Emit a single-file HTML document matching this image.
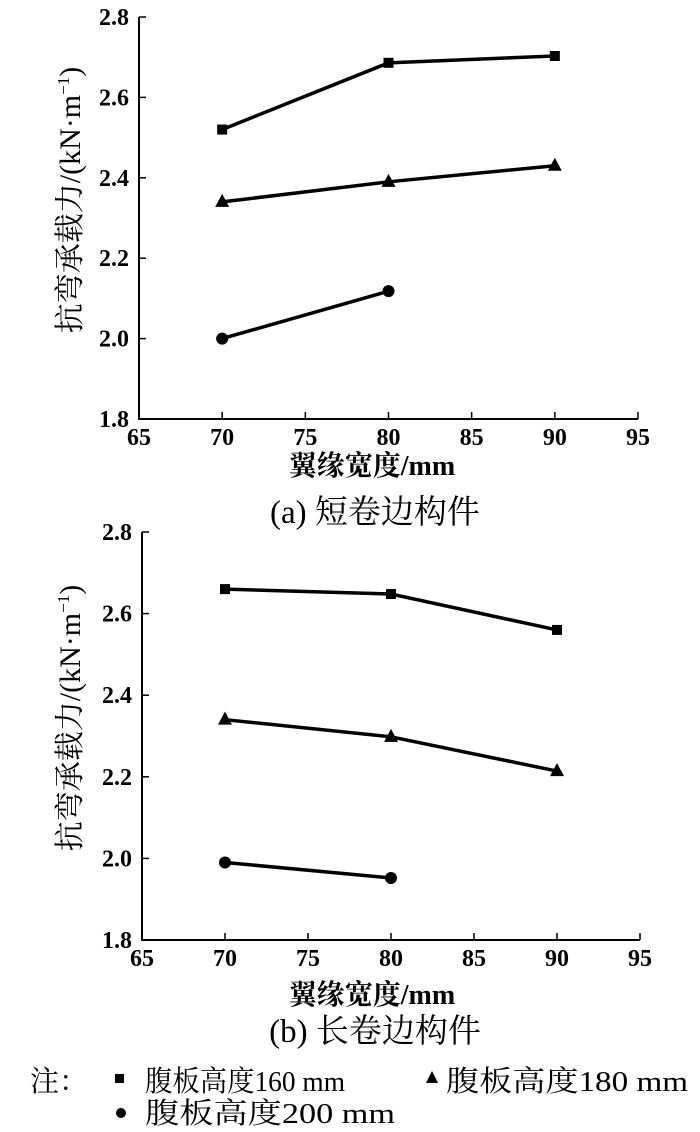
<!DOCTYPE html>
<html><head><meta charset="utf-8"><style>
html,body{margin:0;padding:0;background:#fff;}
svg{display:block;}
text{font-family:"Liberation Serif","Noto Serif CJK SC",serif;fill:#000;}
</style></head><body>
<svg id="chart" width="700" height="1132" viewBox="0 0 700 1132" xmlns="http://www.w3.org/2000/svg"></svg>
<script>
const xTicks=[65,70,75,80,85,90,95];
const yTicks=[1.8,2.0,2.2,2.4,2.6,2.8];
const xA=[70,80,90];
const a160=[2.52,2.686,2.703];
const a180=[2.34,2.39,2.43];
const a200=[2.0,2.118];
const b160=[2.66,2.648,2.56];
const b180=[2.34,2.298,2.214];
const b200=[1.99,1.952];
const NS='http://www.w3.org/2000/svg';
const svg=document.getElementById('chart');
function mk(tag,attrs,parent){const e=document.createElementNS(NS,tag);for(const k in attrs)e.setAttribute(k,attrs[k]);(parent||svg).appendChild(e);return e;}
function panel(id,top,bottom,left,right,s160,s180,s200,title,caption,titleY,capY){
  const g=mk('g',{});
  
  
  const xs=v=>left+(v-65)/30*(right-left);
  const ys=v=>bottom-(v-1.8)/1.0*(bottom-top);
  const ax=mk('path',{d:`M${left},${top} V${bottom} H${right}`,stroke:'#000','stroke-width':2,fill:'none'},g);
  
  
  yTicks.forEach(t=>{const y=ys(t);
    mk('line',{x1:left,x2:left+7,y1:y,y2:y,stroke:'#000','stroke-width':1.5},g);
    const tx=mk('text',{x:left-10,y:y+8,'text-anchor':'end','font-size':24,'font-weight':'bold'},g);
    tx.textContent=t.toFixed(1);
    
    });
  xTicks.forEach(t=>{const x=xs(t);
    mk('line',{x1:x,x2:x,y1:bottom,y2:bottom-7,stroke:'#000','stroke-width':1.5},g);
    const tx=mk('text',{x:x,y:bottom+26,'text-anchor':'middle','font-size':24,'font-weight':'bold'},g);
    tx.textContent=t;
    
    });
  function series(vals,name,marker){
    const pts=vals.map((v,i)=>[xs(xA[i]),ys(v)]);
    const pl=mk('polyline',{points:pts.map(p=>p.join(',')).join(' '),fill:'none',stroke:'#000','stroke-width':3.5},g);
    
    
    pts.forEach(p=>{let m;
      if(marker==='sq')m=mk('rect',{x:p[0]-5,y:p[1]-5,width:10,height:10,fill:'#000'},g);
      else if(marker==='tri')m=mk('polygon',{points:`${p[0]},${p[1]-8} ${p[0]-7},${p[1]+5} ${p[0]+7},${p[1]+5}`,fill:'#000'},g);
      else m=mk('circle',{cx:p[0],cy:p[1],r:6,fill:'#000'},g);
      
      });
  }
  series(s160,'160','sq');series(s180,'180','tri');series(s200,'200','circ');
  const yt=mk('text',{transform:`translate(80,${(top+bottom)/2-18}) rotate(-90)`,'text-anchor':'middle','font-size':30},g);
  yt.textContent='抗弯承载力/(kN·m';
  const sup=mk('tspan',{dy:-11,'font-size':17},yt);sup.textContent='−1';
  const cl=mk('tspan',{dy:11},yt);cl.textContent=')';
  
  
  const xt=mk('text',{x:372,y:titleY,'text-anchor':'middle','font-size':28,'font-weight':'bold'},g);
  xt.textContent=title;
  
  
  const cp=mk('text',{x:375,y:capY,'text-anchor':'middle','font-size':33},g);
  cp.textContent=caption;
  
  
}
panel('a',17,419,139,638,a160,a180,a200,'翼缘宽度/mm','(a) 短卷边构件',475,523);
panel('b',532,940,142,640,b160,b180,b200,'翼缘宽度/mm','(b) 长卷边构件',1004,1042);
const lg=mk('g',{});


const n=mk('text',{x:30,y:1091,'font-size':29},lg);n.textContent='注：';
mk('rect',{x:115,y:1074,width:9,height:9,fill:'#000'},lg);
const l1=mk('text',{x:145,y:1091,'font-size':29,textLength:200,lengthAdjust:'spacingAndGlyphs'},lg);l1.textContent='腹板高度160 mm';


mk('polygon',{points:'432,1071 426,1083 438,1083',fill:'#000'},lg);
const l2=mk('text',{x:446,y:1091,'font-size':29,textLength:242,lengthAdjust:'spacingAndGlyphs'},lg);l2.textContent='腹板高度180 mm';


mk('circle',{cx:121,cy:1113,r:5,fill:'#000'},lg);
const l3=mk('text',{x:145,y:1123,'font-size':29,textLength:250,lengthAdjust:'spacingAndGlyphs'},lg);l3.textContent='腹板高度200 mm';


</script>
</body></html>
